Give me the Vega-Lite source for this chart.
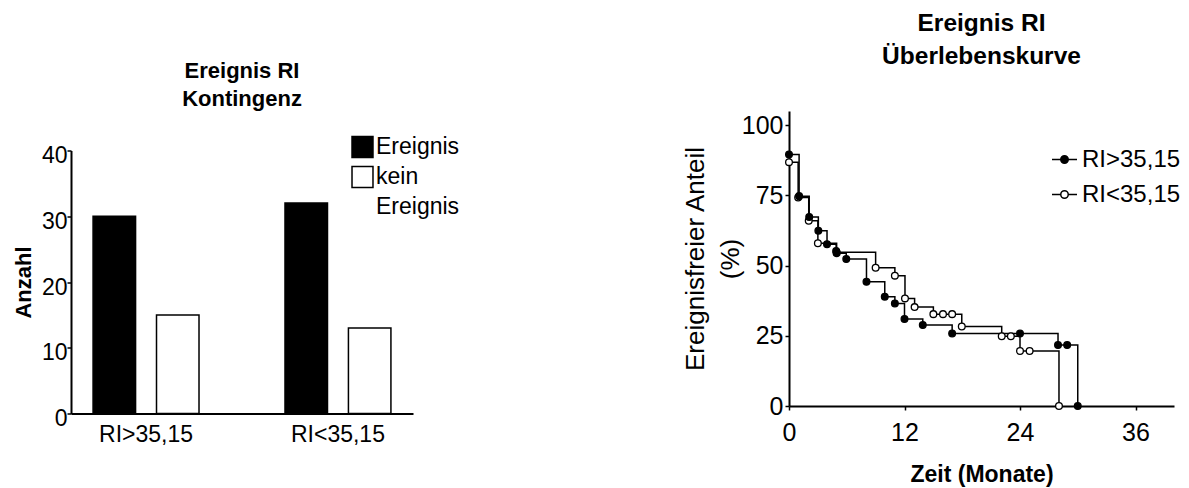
{
  "$schema": "https://vega.github.io/schema/vega-lite/v6.json",
  "background": "white",
  "padding": {"left": 12, "top": 10, "right": 0, "bottom": 5},
  "config": {
    "font": "Liberation Sans",
    "view": {"stroke": null},
    "axis": {"grid": false, "domainColor": "black", "domainWidth": 2, "tickColor": "black", "tickWidth": 1.5, "labelColor": "black", "titleColor": "black"},
    "legend": {"labelColor": "black", "titleColor": "black"}
  },
  "resolve": {"scale": {"fill": "independent"}, "legend": {"fill": "independent"}},
  "center": true,
  "spacing": 222,
  "hconcat": [
    {
      "width": 342,
      "height": 263,
      "title": {"text": ["Ereignis RI", "Kontingenz"], "fontSize": 22, "fontWeight": "bold", "lineHeight": 28, "anchor": "middle", "frame": "group", "offset": 25, "color": "black"},
      "data": {"values": [
        {"gruppe": "RI>35,15", "status": "Ereignis", "anzahl": 30},
        {"gruppe": "RI>35,15", "status": "kein Ereignis", "anzahl": 15},
        {"gruppe": "RI<35,15", "status": "Ereignis", "anzahl": 32},
        {"gruppe": "RI<35,15", "status": "kein Ereignis", "anzahl": 13}
      ]},
      "mark": {"type": "bar", "stroke": "black", "strokeWidth": 1.5},
      "encoding": {
        "x": {"field": "gruppe", "type": "nominal", "sort": ["RI>35,15", "RI<35,15"],
              "scale": {"paddingInner": 0.448, "paddingOuter": 0.115},
              "axis": {"title": null, "labelAngle": 0, "ticks": false, "labelFontSize": 23, "labelPadding": 10}},
        "xOffset": {"field": "status", "type": "nominal", "sort": ["Ereignis", "kein Ereignis"], "scale": {"paddingInner": 0.33, "paddingOuter": 0}},
        "y": {"field": "anzahl", "type": "quantitative", "scale": {"domain": [0, 40], "nice": false},
              "axis": {"values": [0, 10, 20, 30, 40], "title": "Anzahl", "titleFontSize": 22, "titleFontWeight": "bold", "titlePadding": 6, "labelFontSize": 23, "tickSize": 4, "labelPadding": 0, "labelOffset": 5}},
        "fill": {"field": "status", "type": "nominal", "sort": ["Ereignis", "kein Ereignis"],
                 "scale": {"domain": ["Ereignis", "kein Ereignis"], "range": ["black", "white"]},
                 "legend": {"title": null, "orient": "none", "legendX": 280, "legendY": -15, "symbolType": "square", "symbolSize": 440, "symbolStrokeColor": "black", "symbolStrokeWidth": 1.5, "labelFontSize": 23, "labelOffset": 2, "rowPadding": 3,
                            "labelExpr": "datum.label == 'kein Ereignis' ? ['kein', 'Ereignis'] : datum.label",
                            "labelBaseline": "top",
                            "encode": {"labels": {"update": {"dy": {"value": -11}, "lineHeight": {"value": 30}}}}}}
      }
    },
    {
      "width": 385,
      "height": 295,
      "title": {"text": ["Ereignis RI", "Überlebenskurve"], "fontSize": 24.5, "fontWeight": "bold", "lineHeight": 33, "anchor": "middle", "frame": "group", "offset": 42, "color": "black"},
      "data": {"values": [
        {"gruppe": "RI<35,15", "monat": 0, "anteil": 86.8},
        {"gruppe": "RI<35,15", "monat": 0.95, "anteil": 74.2},
        {"gruppe": "RI<35,15", "monat": 2.05, "anteil": 65.9},
        {"gruppe": "RI<35,15", "monat": 3.0, "anteil": 57.9},
        {"gruppe": "RI<35,15", "monat": 4.95, "anteil": 54.7},
        {"gruppe": "RI<35,15", "monat": 9.0, "anteil": 49.2},
        {"gruppe": "RI<35,15", "monat": 11.0, "anteil": 46.4},
        {"gruppe": "RI<35,15", "monat": 12.05, "anteil": 38.3},
        {"gruppe": "RI<35,15", "monat": 13.05, "anteil": 35.2},
        {"gruppe": "RI<35,15", "monat": 15.0, "anteil": 32.7},
        {"gruppe": "RI<35,15", "monat": 16.0, "anteil": 32.7},
        {"gruppe": "RI<35,15", "monat": 16.95, "anteil": 32.7},
        {"gruppe": "RI<35,15", "monat": 17.95, "anteil": 28.3},
        {"gruppe": "RI<35,15", "monat": 22.1, "anteil": 24.8},
        {"gruppe": "RI<35,15", "monat": 23.05, "anteil": 24.8},
        {"gruppe": "RI<35,15", "monat": 24.0, "anteil": 19.6},
        {"gruppe": "RI<35,15", "monat": 25.0, "anteil": 19.6},
        {"gruppe": "RI<35,15", "monat": 28.05, "anteil": 0},
        {"gruppe": "RI>35,15", "monat": 0, "anteil": 89.5},
        {"gruppe": "RI>35,15", "monat": 1.05, "anteil": 74.7},
        {"gruppe": "RI>35,15", "monat": 2.1, "anteil": 67.3},
        {"gruppe": "RI>35,15", "monat": 3.05, "anteil": 62.4},
        {"gruppe": "RI>35,15", "monat": 3.95, "anteil": 57.6},
        {"gruppe": "RI>35,15", "monat": 4.9, "anteil": 55.2},
        {"gruppe": "RI>35,15", "monat": 4.95, "anteil": 54.4},
        {"gruppe": "RI>35,15", "monat": 5.95, "anteil": 52.3},
        {"gruppe": "RI>35,15", "monat": 8.05, "anteil": 44.2},
        {"gruppe": "RI>35,15", "monat": 9.95, "anteil": 38.9},
        {"gruppe": "RI>35,15", "monat": 11.0, "anteil": 36.5},
        {"gruppe": "RI>35,15", "monat": 12.0, "anteil": 31.0},
        {"gruppe": "RI>35,15", "monat": 13.9, "anteil": 28.8},
        {"gruppe": "RI>35,15", "monat": 16.95, "anteil": 25.8},
        {"gruppe": "RI>35,15", "monat": 24.0, "anteil": 25.8},
        {"gruppe": "RI>35,15", "monat": 27.95, "anteil": 21.7},
        {"gruppe": "RI>35,15", "monat": 28.9, "anteil": 21.7},
        {"gruppe": "RI>35,15", "monat": 30.0, "anteil": 0}
      ]},
      "encoding": {
        "x": {"field": "monat", "type": "quantitative", "scale": {"domain": [0, 40], "nice": false},
              "axis": {"values": [0, 12, 24, 36], "title": "Zeit (Monate)", "titleFontSize": 23, "titleFontWeight": "bold", "titlePadding": 18, "labelFontSize": 25, "tickSize": 4, "labelPadding": 10, "labelFlush": false}},
        "y": {"field": "anteil", "type": "quantitative", "scale": {"domain": [0, 105], "nice": false},
              "axis": {"values": [0, 25, 50, 75, 100], "title": ["Ereignisfreier Anteil", "(%)"], "titleFontSize": 26, "titleFontWeight": "normal", "titleLineHeight": 35, "titlePadding": -2, "labelFontSize": 25, "tickSize": 4, "labelPadding": 2}}
      },
      "layer": [
        {"mark": {"type": "line", "interpolate": "step-after", "color": "black", "strokeWidth": 1.5},
         "encoding": {"detail": {"field": "gruppe", "type": "nominal"}}},
        {"mark": {"type": "point", "filled": true, "stroke": "black", "strokeWidth": 1.3, "size": 45, "opacity": 1},
         "encoding": {
           "fill": {"field": "gruppe", "type": "nominal",
                    "scale": {"domain": ["RI>35,15", "RI<35,15"], "range": ["black", "white"]},
                    "legend": {"title": null, "orient": "none", "legendX": 262, "legendY": 35,
                               "symbolType": "M-1,0L-0.3,0M0.3,0L1,0M-0.3,0A0.3,0.3,0,1,0,0.3,0A0.3,0.3,0,1,0,-0.3,0Z",
                               "symbolSize": 625, "symbolStrokeColor": "black", "symbolStrokeWidth": 1.5, "symbolOpacity": 1,
                               "labelFontSize": 24, "labelOffset": 4, "rowPadding": 9, "labelLimit": 200}}
         }}
      ]
    }
  ]
}
